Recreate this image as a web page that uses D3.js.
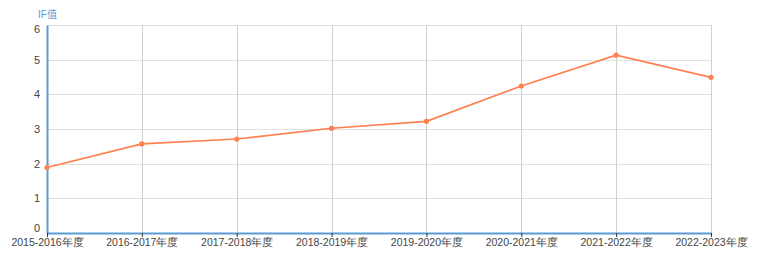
<!DOCTYPE html>
<html><head><meta charset="utf-8">
<script src="https://cdn.jsdelivr.net/npm/d3@7"></script>
<style>body{margin:0;background:#fff}svg{display:block;font-family:"Liberation Sans",Arial,"Noto Sans CJK SC",sans-serif}</style>
</head><body><svg id="c" width="757" height="271"></svg>
<script>
const categories = ["2015-2016年度","2016-2017年度","2017-2018年度","2018-2019年度","2019-2020年度","2020-2021年度","2021-2022年度","2022-2023年度"];
const ifValues = [1.89, 2.57, 2.71, 3.02, 3.22, 4.24, 5.13, 4.49];
const yTicks = [0,1,2,3,4,5,6];
const yTitle = "IF值";

const svg = d3.select("#c");
const m = {l:47, r:46, t:25, b:38};
const W = 757, H = 271;
const x = d3.scalePoint().domain(categories).range([m.l, W - m.r]).padding(0);
const y = d3.scaleLinear().domain([0,6]).range([H - m.b, m.t]);

svg.append("g").selectAll("line").data(yTicks.filter(d=>d>0)).join("line")
  .attr("x1", m.l).attr("x2", W - m.r)
  .attr("y1", d=>Math.round(y(d))+0.5).attr("y2", d=>Math.round(y(d))+0.5)
  .attr("stroke", "#e0e0e0").attr("stroke-width", 1);
svg.append("g").selectAll("line").data(categories.slice(1)).join("line")
  .attr("x1", d=>Math.round(x(d))+0.5).attr("x2", d=>Math.round(x(d))+0.5)
  .attr("y1", m.t).attr("y2", H - m.b)
  .attr("stroke", "#d0d0d0").attr("stroke-width", 1);

const ya = svg.append("g").attr("transform", `translate(${m.l},0)`)
  .call(d3.axisLeft(y).tickValues(yTicks).tickFormat(d3.format("d")).tickSize(0).tickPadding(7));
ya.select(".domain").attr("stroke", "#5b9bd5").attr("stroke-width", 2);
ya.selectAll("text").attr("fill", "#444").attr("font-size", 11);
ya.selectAll(".tick text").filter(d=>d===0).attr("dy", "-0.1em");
ya.selectAll(".tick text").filter(d=>d===6).attr("dy", "0.65em");

const xa = svg.append("g").attr("transform", `translate(0,${H - m.b})`)
  .call(d3.axisBottom(x).tickSize(4).tickPadding(2).tickSizeOuter(0));
xa.select(".domain").attr("stroke", "#5b9bd5").attr("stroke-width", 2);
xa.selectAll(".tick line").attr("stroke", "#333");
xa.selectAll("text").attr("fill", "#444").attr("font-size", 10.5);

svg.append("text").attr("x", 38).attr("y", 18).text(yTitle)
  .attr("fill", "#5b9bd5").attr("font-size", 10);

const data = categories.map((c,i)=>({c, v:ifValues[i]}));
svg.append("path").datum(data)
  .attr("d", d3.line().x(d=>x(d.c)).y(d=>y(d.v)))
  .attr("fill","none").attr("stroke","#ff7f50").attr("stroke-width",1.6);
svg.append("g").selectAll("circle").data(data).join("circle")
  .attr("cx", d=>x(d.c)).attr("cy", d=>y(d.v)).attr("r", 2.6).attr("fill", "#ff7f50");
</script></body></html>
